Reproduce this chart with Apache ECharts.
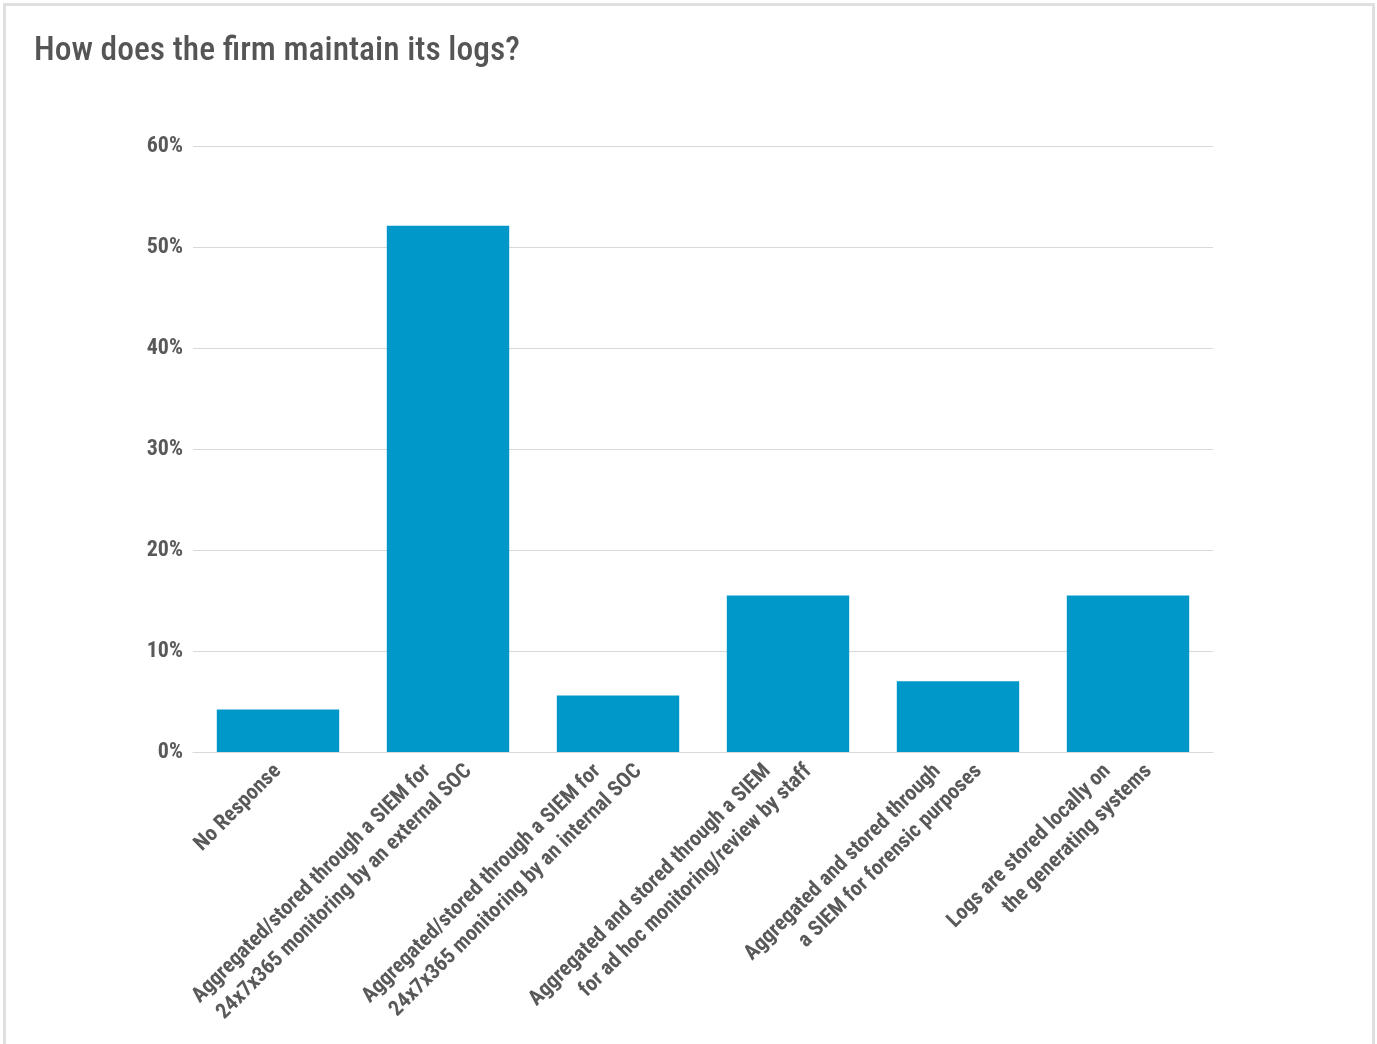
<!DOCTYPE html>
<html>
<head>
<meta charset="utf-8">
<script src="https://cdn.jsdelivr.net/npm/echarts@6/dist/echarts.min.js"></script>
<style>
  html, body { margin: 0; padding: 0; background: #fff; overflow: hidden; width: 1377px; height: 1044px; }
  #frame { position: absolute; left: 3px; top: 3px; width: 1372px; height: 1041px; border: 3px solid #e0e0e0; border-bottom: none; box-sizing: border-box; }
  #chart { position: absolute; left: 0; top: 0; width: 1377px; height: 1044px; }
</style>
</head>
<body>
<div id="frame"></div>
<div id="chart"></div>
<script>
// Survey: how firms maintain their logs (share of respondents)
const categories = [
  'No Response',
  'Aggregated/stored through a SIEM for\n24x7x365 monitoring by an external SOC',
  'Aggregated/stored through a SIEM for\n24x7x365 monitoring by an internal SOC',
  'Aggregated and stored through a SIEM\nfor ad hoc monitoring/review by staff',
  'Aggregated and stored through\na SIEM for forensic purposes',
  'Logs are stored locally on\nthe generating systems'
];
const shares = [4.2, 52.1, 5.6, 15.5, 7.0, 15.5];
const yTicks = [0, 10, 20, 30, 40, 50, 60];

const FONT = '"Roboto Condensed", "Liberation Sans Narrow", "DejaVu Sans Condensed", sans-serif';
const GREY = '#595959';
const LINE_H = 29;

// Two-line rotated labels: the lines end at the same height, the second one
// stepping forward along the text so both sit to either side of the tick.
function tickLabel(v) {
  const lines = v.split('\n');
  if (lines.length === 1) return '{s|' + v + '}';
  return '{a|' + lines[0] + '}\n{b|' + lines[1] + '}';
}
const labelText = { fontFamily: FONT, fontSize: 21.5, fontWeight: 'bold', color: GREY, lineHeight: LINE_H };

const chart = echarts.init(document.getElementById('chart'));
chart.setOption({
  animation: false,
  title: {
    text: 'How does the firm maintain its logs?',
    left: 29,
    top: 30,
    textStyle: { fontFamily: FONT, fontSize: 33.5, fontWeight: 500, color: '#555' }
  },
  grid: { left: 193, right: 164, top: 146, bottom: 292, containLabel: false, outerBoundsMode: 'none' },
  xAxis: {
    type: 'category',
    data: categories,
    axisLine: { lineStyle: { color: '#d9d9d9', width: 1 } },
    axisTick: { show: false },
    axisLabel: {
      interval: 0,
      rotate: 45,
      margin: 16,
      formatter: tickLabel,
      rich: {
        s: Object.assign({}, labelText, { lineHeight: 22 }),
        a: Object.assign({ align: 'right', padding: [0, LINE_H / 2, 0, 0] }, labelText),
        b: Object.assign({ align: 'right', padding: [0, -LINE_H / 2, 0, 0] }, labelText)
      }
    }
  },
  yAxis: {
    type: 'value',
    min: yTicks[0],
    max: yTicks[yTicks.length - 1],
    interval: 10,
    axisLine: { show: false },
    axisTick: { show: false },
    splitLine: { lineStyle: { color: '#d9d9d9', width: 1 } },
    axisLabel: {
      margin: 10,
      formatter: v => v + '%',
      fontFamily: FONT, fontSize: 22, fontWeight: 'bold', color: GREY
    }
  },
  series: [{
    type: 'bar',
    data: shares,
    barWidth: '72%',
    itemStyle: { color: '#0097C9' }
  }]
});
</script>
</body>
</html>
